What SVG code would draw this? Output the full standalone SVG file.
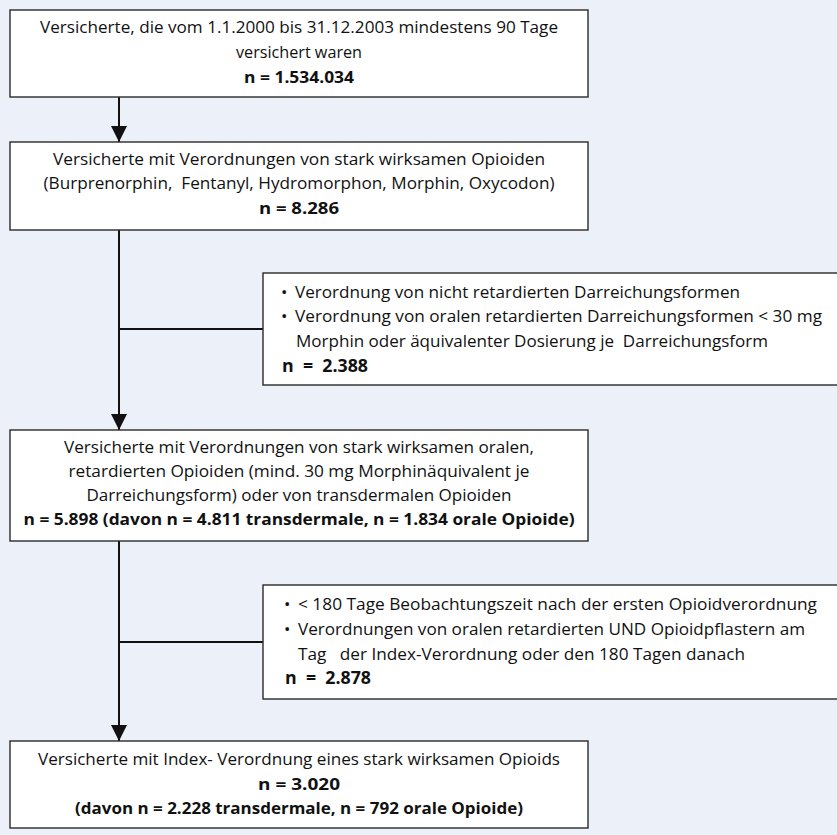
<svg xmlns="http://www.w3.org/2000/svg" width="837" height="835" viewBox="0 0 837 835">
<style>
  .bg { fill: #ecf0f9; }
  .box { fill: #ffffff; stroke: #2a2a2a; stroke-width: 1.4; }
  .conn { stroke: #111111; stroke-width: 2; fill: none; }
  .t { font-family: "Open Sans", "Noto Sans", "Liberation Sans", sans-serif; font-size: 16px; fill: #111111; text-anchor: middle; }
  .b { font-weight: bold; }
  .e { font-family: "Open Sans", "Noto Sans", "Liberation Sans", sans-serif; font-size: 17px; fill: #111111; white-space: pre; }
</style>
<defs>
  <marker id="arrow" markerUnits="userSpaceOnUse" markerWidth="16" markerHeight="16" refX="16" refY="8" orient="auto">
    <path d="M0,0 L16,8 L0,16 Z" fill="#111111"/>
  </marker>
</defs>
<rect class="bg" x="0" y="0" width="837" height="835"/>

<g id="connectors">
  <line class="conn" x1="119" y1="97" x2="119" y2="142" marker-end="url(#arrow)"/>
  <line class="conn" x1="119" y1="230" x2="119" y2="430" marker-end="url(#arrow)"/>
  <line class="conn" x1="119" y1="329" x2="263" y2="329"/>
  <line class="conn" x1="119" y1="541" x2="119" y2="741" marker-end="url(#arrow)"/>
  <line class="conn" x1="119" y1="642" x2="263" y2="642"/>
</g>

<g id="node1">
  <rect class="box" x="10" y="10" width="578" height="87"/>
  <text class="t" x="299" y="33" textLength="518" lengthAdjust="spacingAndGlyphs">Versicherte, die vom 1.1.2000 bis 31.12.2003 mindestens 90 Tage</text>
  <text class="t" x="299" y="58" textLength="126" lengthAdjust="spacingAndGlyphs">versichert waren</text>
  <text class="t b" x="299" y="83" textLength="110" lengthAdjust="spacingAndGlyphs">n = 1.534.034</text>
</g>

<g id="node2">
  <rect class="box" x="10" y="142" width="578" height="88"/>
  <text class="t" x="299" y="165" textLength="492" lengthAdjust="spacingAndGlyphs">Versicherte mit Verordnungen von stark wirksamen Opioiden</text>
  <text class="t" x="299" y="189" textLength="511" lengthAdjust="spacingAndGlyphs" xml:space="preserve">(Burprenorphin,  Fentanyl, Hydromorphon, Morphin, Oxycodon)</text>
  <text class="t b" x="299" y="214" textLength="80" lengthAdjust="spacingAndGlyphs">n = 8.286</text>
</g>

<g id="exclusion1">
  <rect class="box" x="263" y="273" width="590" height="112"/>
  <text class="e" x="281" y="298">•</text>
  <text class="e" x="295" y="298" textLength="445" lengthAdjust="spacingAndGlyphs">Verordnung von nicht retardierten Darreichungsformen</text>
  <text class="e" x="281" y="322">•</text>
  <text class="e" x="295" y="322" textLength="527" lengthAdjust="spacingAndGlyphs">Verordnung von oralen retardierten Darreichungsformen &lt; 30 mg</text>
  <text class="e" x="296" y="347" textLength="472" lengthAdjust="spacingAndGlyphs">Morphin oder äquivalenter Dosierung je  Darreichungsform</text>
  <text class="e b" x="282" y="372" textLength="86" lengthAdjust="spacingAndGlyphs">n  =  2.388</text>
</g>

<g id="node3">
  <rect class="box" x="10" y="430" width="578" height="111"/>
  <text class="t" x="299" y="453" textLength="470" lengthAdjust="spacingAndGlyphs">Versicherte mit Verordnungen von stark wirksamen oralen,</text>
  <text class="t" x="299" y="477" textLength="461" lengthAdjust="spacingAndGlyphs">retardierten Opioiden (mind. 30 mg Morphinäquivalent je</text>
  <text class="t" x="299" y="501" textLength="425" lengthAdjust="spacingAndGlyphs">Darreichungsform) oder von transdermalen Opioiden</text>
  <text class="t b" x="299" y="525" textLength="551" lengthAdjust="spacingAndGlyphs">n = 5.898 (davon n = 4.811 transdermale, n = 1.834 orale Opioide)</text>
</g>

<g id="exclusion2">
  <rect class="box" x="263" y="585" width="590" height="114"/>
  <text class="e" x="284" y="610">•</text>
  <text class="e" x="298" y="610" textLength="519" lengthAdjust="spacingAndGlyphs">&lt; 180 Tage Beobachtungszeit nach der ersten Opioidverordnung</text>
  <text class="e" x="284" y="635">•</text>
  <text class="e" x="298" y="635" textLength="507" lengthAdjust="spacingAndGlyphs">Verordnungen von oralen retardierten UND Opioidpflastern am</text>
  <text class="e" x="298" y="660" textLength="447" lengthAdjust="spacingAndGlyphs">Tag   der Index-Verordnung oder den 180 Tagen danach</text>
  <text class="e b" x="285" y="684" textLength="86" lengthAdjust="spacingAndGlyphs">n  =  2.878</text>
</g>

<g id="node4">
  <rect class="box" x="10" y="741" width="578" height="87"/>
  <text class="t" x="299" y="765" textLength="522" lengthAdjust="spacingAndGlyphs">Versicherte mit Index- Verordnung eines stark wirksamen Opioids</text>
  <text class="t b" x="299" y="790" textLength="82" lengthAdjust="spacingAndGlyphs">n = 3.020</text>
  <text class="t b" x="299" y="814" textLength="448" lengthAdjust="spacingAndGlyphs">(davon n = 2.228 transdermale, n = 792 orale Opioide)</text>
</g>
</svg>
